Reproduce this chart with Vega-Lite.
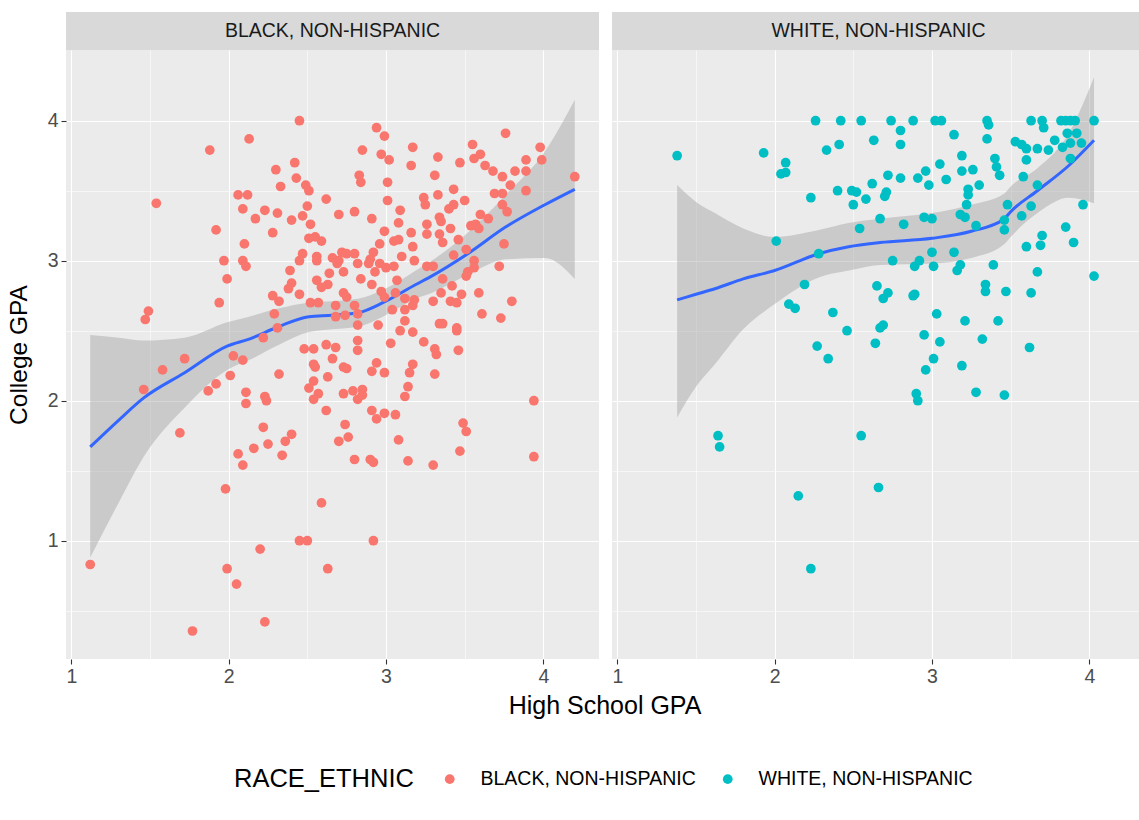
{
"$schema": "https://vega.github.io/schema/vega-lite/v6.json",
"background": "white",
"padding": {"left": 6, "top": 12, "right": 0, "bottom": 0},
"config": {
  "font": "Liberation Sans",
  "view": {"stroke": null},
  "axis": {"domain": false, "grid": true, "gridColor": "#FFFFFF", "tickColor": "#333333", "tickWidth": 1.1, "tickSize": 5, "labelColor": "#4D4D4D", "labelFontSize": 19.5, "labelFont": "Liberation Sans", "titleFont": "Liberation Sans", "titleFontSize": 24.5, "titleFontWeight": "normal", "titleColor": "#000000", "labelPadding": 3},
  "legend": {"labelFont": "Liberation Sans", "titleFont": "Liberation Sans"}
},
"datasets": {
"smooth": [
{"race":"BLACK, NON-HISPANIC","hs":1.12,"fit":1.67,"lo":0.88,"hi":2.47},
{"race":"BLACK, NON-HISPANIC","hs":1.30,"fit":1.86,"lo":1.27,"hi":2.45},
{"race":"BLACK, NON-HISPANIC","hs":1.46,"fit":2.02,"lo":1.60,"hi":2.43},
{"race":"BLACK, NON-HISPANIC","hs":1.72,"fit":2.20,"lo":1.95,"hi":2.45},
{"race":"BLACK, NON-HISPANIC","hs":1.99,"fit":2.39,"lo":2.22,"hi":2.56},
{"race":"BLACK, NON-HISPANIC","hs":2.13,"fit":2.44,"lo":2.29,"hi":2.60},
{"race":"BLACK, NON-HISPANIC","hs":2.32,"fit":2.53,"lo":2.40,"hi":2.66},
{"race":"BLACK, NON-HISPANIC","hs":2.51,"fit":2.60,"lo":2.49,"hi":2.70},
{"race":"BLACK, NON-HISPANIC","hs":2.66,"fit":2.61,"lo":2.51,"hi":2.71},
{"race":"BLACK, NON-HISPANIC","hs":2.83,"fit":2.63,"lo":2.53,"hi":2.73},
{"race":"BLACK, NON-HISPANIC","hs":2.98,"fit":2.70,"lo":2.60,"hi":2.79},
{"race":"BLACK, NON-HISPANIC","hs":3.19,"fit":2.83,"lo":2.73,"hi":2.93},
{"race":"BLACK, NON-HISPANIC","hs":3.29,"fit":2.89,"lo":2.77,"hi":3.00},
{"race":"BLACK, NON-HISPANIC","hs":3.52,"fit":3.05,"lo":2.90,"hi":3.20},
{"race":"BLACK, NON-HISPANIC","hs":3.76,"fit":3.24,"lo":3.01,"hi":3.47},
{"race":"BLACK, NON-HISPANIC","hs":4.01,"fit":3.40,"lo":3.02,"hi":3.78},
{"race":"BLACK, NON-HISPANIC","hs":4.20,"fit":3.51,"lo":2.87,"hi":4.15},
{"race":"WHITE, NON-HISPANIC","hs":1.38,"fit":2.72,"lo":1.88,"hi":3.54},
{"race":"WHITE, NON-HISPANIC","hs":1.50,"fit":2.76,"lo":2.10,"hi":3.42},
{"race":"WHITE, NON-HISPANIC","hs":1.62,"fit":2.80,"lo":2.26,"hi":3.34},
{"race":"WHITE, NON-HISPANIC","hs":1.80,"fit":2.87,"lo":2.51,"hi":3.23},
{"race":"WHITE, NON-HISPANIC","hs":2.00,"fit":2.93,"lo":2.69,"hi":3.17},
{"race":"WHITE, NON-HISPANIC","hs":2.28,"fit":3.05,"lo":2.88,"hi":3.22},
{"race":"WHITE, NON-HISPANIC","hs":2.47,"fit":3.10,"lo":2.93,"hi":3.27},
{"race":"WHITE, NON-HISPANIC","hs":2.67,"fit":3.13,"lo":2.97,"hi":3.30},
{"race":"WHITE, NON-HISPANIC","hs":3.00,"fit":3.16,"lo":2.98,"hi":3.34},
{"race":"WHITE, NON-HISPANIC","hs":3.25,"fit":3.21,"lo":3.02,"hi":3.40},
{"race":"WHITE, NON-HISPANIC","hs":3.46,"fit":3.30,"lo":3.12,"hi":3.48},
{"race":"WHITE, NON-HISPANIC","hs":3.50,"fit":3.35,"lo":3.17,"hi":3.53},
{"race":"WHITE, NON-HISPANIC","hs":3.67,"fit":3.50,"lo":3.34,"hi":3.66},
{"race":"WHITE, NON-HISPANIC","hs":3.87,"fit":3.68,"lo":3.45,"hi":3.91},
{"race":"WHITE, NON-HISPANIC","hs":4.03,"fit":3.86,"lo":3.41,"hi":4.31}
],
"pts": [
{"race":"BLACK, NON-HISPANIC","hs":1.88,"col":3.79},{"race":"BLACK, NON-HISPANIC","hs":1.54,"col":3.41},{"race":"BLACK, NON-HISPANIC","hs":2.06,"col":3.47},{"race":"BLACK, NON-HISPANIC","hs":2.12,"col":3.47},{"race":"BLACK, NON-HISPANIC","hs":2.09,"col":3.37},{"race":"BLACK, NON-HISPANIC","hs":1.92,"col":3.22},{"race":"BLACK, NON-HISPANIC","hs":2.10,"col":3.12},{"race":"BLACK, NON-HISPANIC","hs":1.97,"col":3.00},{"race":"BLACK, NON-HISPANIC","hs":2.09,"col":3.00},{"race":"BLACK, NON-HISPANIC","hs":2.11,"col":2.96},{"race":"BLACK, NON-HISPANIC","hs":1.99,"col":2.87},{"race":"BLACK, NON-HISPANIC","hs":2.13,"col":3.87},
{"race":"BLACK, NON-HISPANIC","hs":2.45,"col":4.00},{"race":"BLACK, NON-HISPANIC","hs":2.94,"col":3.95},{"race":"BLACK, NON-HISPANIC","hs":2.99,"col":3.89},{"race":"BLACK, NON-HISPANIC","hs":3.17,"col":3.81},{"race":"BLACK, NON-HISPANIC","hs":2.85,"col":3.79},{"race":"BLACK, NON-HISPANIC","hs":2.97,"col":3.76},{"race":"BLACK, NON-HISPANIC","hs":3.02,"col":3.72},{"race":"BLACK, NON-HISPANIC","hs":2.42,"col":3.70},{"race":"BLACK, NON-HISPANIC","hs":2.30,"col":3.65},{"race":"BLACK, NON-HISPANIC","hs":3.16,"col":3.68},{"race":"BLACK, NON-HISPANIC","hs":2.83,"col":3.61},{"race":"BLACK, NON-HISPANIC","hs":2.84,"col":3.56},{"race":"BLACK, NON-HISPANIC","hs":2.43,"col":3.59},{"race":"BLACK, NON-HISPANIC","hs":3.01,"col":3.56},{"race":"BLACK, NON-HISPANIC","hs":2.33,"col":3.53},{"race":"BLACK, NON-HISPANIC","hs":2.49,"col":3.54},{"race":"BLACK, NON-HISPANIC","hs":2.51,"col":3.50},{"race":"BLACK, NON-HISPANIC","hs":2.62,"col":3.44},{"race":"BLACK, NON-HISPANIC","hs":3.01,"col":3.43},{"race":"BLACK, NON-HISPANIC","hs":2.50,"col":3.39},{"race":"BLACK, NON-HISPANIC","hs":2.23,"col":3.36},{"race":"BLACK, NON-HISPANIC","hs":2.17,"col":3.30},{"race":"BLACK, NON-HISPANIC","hs":2.31,"col":3.34},{"race":"BLACK, NON-HISPANIC","hs":2.40,"col":3.29},{"race":"BLACK, NON-HISPANIC","hs":2.47,"col":3.32},{"race":"BLACK, NON-HISPANIC","hs":2.70,"col":3.33},{"race":"BLACK, NON-HISPANIC","hs":2.80,"col":3.35},{"race":"BLACK, NON-HISPANIC","hs":2.91,"col":3.30},{"race":"BLACK, NON-HISPANIC","hs":3.09,"col":3.36},{"race":"BLACK, NON-HISPANIC","hs":3.08,"col":3.27},{"race":"BLACK, NON-HISPANIC","hs":2.52,"col":3.26},{"race":"BLACK, NON-HISPANIC","hs":2.28,"col":3.20},{"race":"BLACK, NON-HISPANIC","hs":2.99,"col":3.21},{"race":"BLACK, NON-HISPANIC","hs":3.16,"col":3.20},{"race":"BLACK, NON-HISPANIC","hs":2.51,"col":3.16},{"race":"BLACK, NON-HISPANIC","hs":2.55,"col":3.17},{"race":"BLACK, NON-HISPANIC","hs":2.59,"col":3.14},{"race":"BLACK, NON-HISPANIC","hs":2.96,"col":3.12},{"race":"BLACK, NON-HISPANIC","hs":3.05,"col":3.14},{"race":"BLACK, NON-HISPANIC","hs":3.08,"col":3.15},{"race":"BLACK, NON-HISPANIC","hs":3.17,"col":3.10},{"race":"BLACK, NON-HISPANIC","hs":2.47,"col":3.05},{"race":"BLACK, NON-HISPANIC","hs":2.45,"col":3.00},{"race":"BLACK, NON-HISPANIC","hs":2.56,"col":3.03},{"race":"BLACK, NON-HISPANIC","hs":2.56,"col":3.00},{"race":"BLACK, NON-HISPANIC","hs":2.66,"col":3.02},{"race":"BLACK, NON-HISPANIC","hs":2.70,"col":3.00},{"race":"BLACK, NON-HISPANIC","hs":2.72,"col":3.06},{"race":"BLACK, NON-HISPANIC","hs":2.75,"col":3.05},{"race":"BLACK, NON-HISPANIC","hs":2.80,"col":3.05},{"race":"BLACK, NON-HISPANIC","hs":2.82,"col":2.98},{"race":"BLACK, NON-HISPANIC","hs":2.92,"col":3.06},{"race":"BLACK, NON-HISPANIC","hs":2.90,"col":3.01},{"race":"BLACK, NON-HISPANIC","hs":2.89,"col":2.98},{"race":"BLACK, NON-HISPANIC","hs":2.96,"col":2.98},{"race":"BLACK, NON-HISPANIC","hs":3.00,"col":2.95},{"race":"BLACK, NON-HISPANIC","hs":3.05,"col":2.96},{"race":"BLACK, NON-HISPANIC","hs":3.10,"col":3.03},{"race":"BLACK, NON-HISPANIC","hs":3.18,"col":3.00},{"race":"BLACK, NON-HISPANIC","hs":2.39,"col":2.93},{"race":"BLACK, NON-HISPANIC","hs":2.64,"col":2.91},{"race":"BLACK, NON-HISPANIC","hs":2.73,"col":2.92},{"race":"BLACK, NON-HISPANIC","hs":2.93,"col":2.92},{"race":"BLACK, NON-HISPANIC","hs":2.69,"col":2.98},
{"race":"BLACK, NON-HISPANIC","hs":3.76,"col":3.91},{"race":"BLACK, NON-HISPANIC","hs":3.55,"col":3.83},{"race":"BLACK, NON-HISPANIC","hs":3.98,"col":3.81},{"race":"BLACK, NON-HISPANIC","hs":3.33,"col":3.74},{"race":"BLACK, NON-HISPANIC","hs":3.56,"col":3.73},{"race":"BLACK, NON-HISPANIC","hs":3.60,"col":3.76},{"race":"BLACK, NON-HISPANIC","hs":3.89,"col":3.72},{"race":"BLACK, NON-HISPANIC","hs":3.99,"col":3.72},{"race":"BLACK, NON-HISPANIC","hs":3.47,"col":3.70},{"race":"BLACK, NON-HISPANIC","hs":3.63,"col":3.68},{"race":"BLACK, NON-HISPANIC","hs":3.31,"col":3.61},{"race":"BLACK, NON-HISPANIC","hs":3.68,"col":3.64},{"race":"BLACK, NON-HISPANIC","hs":3.74,"col":3.60},{"race":"BLACK, NON-HISPANIC","hs":3.82,"col":3.64},{"race":"BLACK, NON-HISPANIC","hs":3.89,"col":3.64},{"race":"BLACK, NON-HISPANIC","hs":3.79,"col":3.54},{"race":"BLACK, NON-HISPANIC","hs":4.20,"col":3.60},{"race":"BLACK, NON-HISPANIC","hs":3.43,"col":3.51},{"race":"BLACK, NON-HISPANIC","hs":3.89,"col":3.50},{"race":"BLACK, NON-HISPANIC","hs":3.69,"col":3.48},{"race":"BLACK, NON-HISPANIC","hs":3.74,"col":3.48},{"race":"BLACK, NON-HISPANIC","hs":3.33,"col":3.47},{"race":"BLACK, NON-HISPANIC","hs":3.50,"col":3.43},{"race":"BLACK, NON-HISPANIC","hs":3.24,"col":3.45},{"race":"BLACK, NON-HISPANIC","hs":3.25,"col":3.40},{"race":"BLACK, NON-HISPANIC","hs":3.43,"col":3.40},{"race":"BLACK, NON-HISPANIC","hs":3.40,"col":3.37},{"race":"BLACK, NON-HISPANIC","hs":3.74,"col":3.40},{"race":"BLACK, NON-HISPANIC","hs":3.77,"col":3.35},{"race":"BLACK, NON-HISPANIC","hs":3.60,"col":3.33},{"race":"BLACK, NON-HISPANIC","hs":3.65,"col":3.30},{"race":"BLACK, NON-HISPANIC","hs":3.34,"col":3.31},{"race":"BLACK, NON-HISPANIC","hs":3.35,"col":3.28},{"race":"BLACK, NON-HISPANIC","hs":3.26,"col":3.26},{"race":"BLACK, NON-HISPANIC","hs":3.54,"col":3.25},{"race":"BLACK, NON-HISPANIC","hs":3.57,"col":3.26},{"race":"BLACK, NON-HISPANIC","hs":3.59,"col":3.23},{"race":"BLACK, NON-HISPANIC","hs":3.41,"col":3.23},{"race":"BLACK, NON-HISPANIC","hs":3.26,"col":3.19},{"race":"BLACK, NON-HISPANIC","hs":3.34,"col":3.19},{"race":"BLACK, NON-HISPANIC","hs":3.36,"col":3.13},{"race":"BLACK, NON-HISPANIC","hs":3.46,"col":3.15},{"race":"BLACK, NON-HISPANIC","hs":3.51,"col":3.08},{"race":"BLACK, NON-HISPANIC","hs":3.75,"col":3.12},{"race":"BLACK, NON-HISPANIC","hs":3.43,"col":3.04},{"race":"BLACK, NON-HISPANIC","hs":3.56,"col":3.00},{"race":"BLACK, NON-HISPANIC","hs":3.56,"col":2.95},{"race":"BLACK, NON-HISPANIC","hs":3.52,"col":2.92},{"race":"BLACK, NON-HISPANIC","hs":3.72,"col":2.96},{"race":"BLACK, NON-HISPANIC","hs":3.26,"col":2.96},{"race":"BLACK, NON-HISPANIC","hs":3.30,"col":2.96},{"race":"BLACK, NON-HISPANIC","hs":3.51,"col":2.89},{"race":"BLACK, NON-HISPANIC","hs":3.36,"col":2.87},
{"race":"BLACK, NON-HISPANIC","hs":1.49,"col":2.64},{"race":"BLACK, NON-HISPANIC","hs":1.47,"col":2.58},{"race":"BLACK, NON-HISPANIC","hs":1.94,"col":2.70},{"race":"BLACK, NON-HISPANIC","hs":1.72,"col":2.30},{"race":"BLACK, NON-HISPANIC","hs":1.58,"col":2.22},{"race":"BLACK, NON-HISPANIC","hs":1.46,"col":2.08},{"race":"BLACK, NON-HISPANIC","hs":1.87,"col":2.07},{"race":"BLACK, NON-HISPANIC","hs":1.92,"col":2.12},{"race":"BLACK, NON-HISPANIC","hs":2.01,"col":2.18},{"race":"BLACK, NON-HISPANIC","hs":2.03,"col":2.32},{"race":"BLACK, NON-HISPANIC","hs":2.09,"col":2.29},{"race":"BLACK, NON-HISPANIC","hs":2.11,"col":2.06},{"race":"BLACK, NON-HISPANIC","hs":2.11,"col":1.98},{"race":"BLACK, NON-HISPANIC","hs":1.69,"col":1.77},{"race":"BLACK, NON-HISPANIC","hs":2.06,"col":1.62},{"race":"BLACK, NON-HISPANIC","hs":2.09,"col":1.54},
{"race":"BLACK, NON-HISPANIC","hs":2.40,"col":2.84},{"race":"BLACK, NON-HISPANIC","hs":2.38,"col":2.80},{"race":"BLACK, NON-HISPANIC","hs":2.45,"col":2.76},{"race":"BLACK, NON-HISPANIC","hs":2.28,"col":2.75},{"race":"BLACK, NON-HISPANIC","hs":2.32,"col":2.71},{"race":"BLACK, NON-HISPANIC","hs":2.56,"col":2.86},{"race":"BLACK, NON-HISPANIC","hs":2.63,"col":2.83},{"race":"BLACK, NON-HISPANIC","hs":2.59,"col":2.81},{"race":"BLACK, NON-HISPANIC","hs":2.52,"col":2.70},{"race":"BLACK, NON-HISPANIC","hs":2.57,"col":2.70},{"race":"BLACK, NON-HISPANIC","hs":2.73,"col":2.77},{"race":"BLACK, NON-HISPANIC","hs":2.75,"col":2.74},{"race":"BLACK, NON-HISPANIC","hs":2.68,"col":2.68},{"race":"BLACK, NON-HISPANIC","hs":2.80,"col":2.68},{"race":"BLACK, NON-HISPANIC","hs":2.84,"col":2.87},{"race":"BLACK, NON-HISPANIC","hs":2.91,"col":2.83},{"race":"BLACK, NON-HISPANIC","hs":2.97,"col":2.78},{"race":"BLACK, NON-HISPANIC","hs":2.99,"col":2.74},{"race":"BLACK, NON-HISPANIC","hs":3.06,"col":2.77},{"race":"BLACK, NON-HISPANIC","hs":3.07,"col":2.86},{"race":"BLACK, NON-HISPANIC","hs":3.12,"col":2.73},{"race":"BLACK, NON-HISPANIC","hs":3.18,"col":2.72},{"race":"BLACK, NON-HISPANIC","hs":3.04,"col":2.65},{"race":"BLACK, NON-HISPANIC","hs":3.12,"col":2.65},{"race":"BLACK, NON-HISPANIC","hs":3.17,"col":2.68},{"race":"BLACK, NON-HISPANIC","hs":2.29,"col":2.62},{"race":"BLACK, NON-HISPANIC","hs":2.31,"col":2.52},{"race":"BLACK, NON-HISPANIC","hs":2.22,"col":2.45},{"race":"BLACK, NON-HISPANIC","hs":2.68,"col":2.60},{"race":"BLACK, NON-HISPANIC","hs":2.74,"col":2.61},{"race":"BLACK, NON-HISPANIC","hs":2.82,"col":2.62},{"race":"BLACK, NON-HISPANIC","hs":2.82,"col":2.54},{"race":"BLACK, NON-HISPANIC","hs":2.95,"col":2.54},{"race":"BLACK, NON-HISPANIC","hs":3.09,"col":2.50},{"race":"BLACK, NON-HISPANIC","hs":3.12,"col":2.57},{"race":"BLACK, NON-HISPANIC","hs":3.17,"col":2.49},{"race":"BLACK, NON-HISPANIC","hs":2.48,"col":2.37},{"race":"BLACK, NON-HISPANIC","hs":2.54,"col":2.37},{"race":"BLACK, NON-HISPANIC","hs":2.62,"col":2.40},{"race":"BLACK, NON-HISPANIC","hs":2.68,"col":2.38},{"race":"BLACK, NON-HISPANIC","hs":2.82,"col":2.43},{"race":"BLACK, NON-HISPANIC","hs":2.82,"col":2.36},{"race":"BLACK, NON-HISPANIC","hs":3.03,"col":2.41},{"race":"BLACK, NON-HISPANIC","hs":2.54,"col":2.26},{"race":"BLACK, NON-HISPANIC","hs":2.55,"col":2.24},{"race":"BLACK, NON-HISPANIC","hs":2.66,"col":2.30},{"race":"BLACK, NON-HISPANIC","hs":2.73,"col":2.24},{"race":"BLACK, NON-HISPANIC","hs":2.75,"col":2.23},{"race":"BLACK, NON-HISPANIC","hs":2.32,"col":2.19},{"race":"BLACK, NON-HISPANIC","hs":2.63,"col":2.17},{"race":"BLACK, NON-HISPANIC","hs":2.94,"col":2.27},{"race":"BLACK, NON-HISPANIC","hs":2.91,"col":2.21},{"race":"BLACK, NON-HISPANIC","hs":2.99,"col":2.20},{"race":"BLACK, NON-HISPANIC","hs":3.17,"col":2.26},{"race":"BLACK, NON-HISPANIC","hs":3.15,"col":2.20},{"race":"BLACK, NON-HISPANIC","hs":2.54,"col":2.14},{"race":"BLACK, NON-HISPANIC","hs":2.51,"col":2.09},{"race":"BLACK, NON-HISPANIC","hs":2.57,"col":2.05},{"race":"BLACK, NON-HISPANIC","hs":2.54,"col":2.01},{"race":"BLACK, NON-HISPANIC","hs":2.73,"col":2.05},{"race":"BLACK, NON-HISPANIC","hs":2.79,"col":2.07},{"race":"BLACK, NON-HISPANIC","hs":2.85,"col":2.08},{"race":"BLACK, NON-HISPANIC","hs":2.85,"col":2.04},{"race":"BLACK, NON-HISPANIC","hs":2.82,"col":2.01},{"race":"BLACK, NON-HISPANIC","hs":3.14,"col":2.10},{"race":"BLACK, NON-HISPANIC","hs":3.12,"col":2.03},{"race":"BLACK, NON-HISPANIC","hs":2.23,"col":2.03},{"race":"BLACK, NON-HISPANIC","hs":2.24,"col":2.00},{"race":"BLACK, NON-HISPANIC","hs":2.62,"col":1.93},{"race":"BLACK, NON-HISPANIC","hs":2.91,"col":1.93},{"race":"BLACK, NON-HISPANIC","hs":2.94,"col":1.87},{"race":"BLACK, NON-HISPANIC","hs":2.99,"col":1.91},{"race":"BLACK, NON-HISPANIC","hs":3.06,"col":1.90},{"race":"BLACK, NON-HISPANIC","hs":2.74,"col":1.83},{"race":"BLACK, NON-HISPANIC","hs":2.22,"col":1.81},{"race":"BLACK, NON-HISPANIC","hs":2.40,"col":1.76},{"race":"BLACK, NON-HISPANIC","hs":2.36,"col":1.71},{"race":"BLACK, NON-HISPANIC","hs":2.76,"col":1.74},{"race":"BLACK, NON-HISPANIC","hs":2.70,"col":1.71},{"race":"BLACK, NON-HISPANIC","hs":3.08,"col":1.72},{"race":"BLACK, NON-HISPANIC","hs":2.25,"col":1.69},{"race":"BLACK, NON-HISPANIC","hs":2.16,"col":1.66},{"race":"BLACK, NON-HISPANIC","hs":2.34,"col":1.61},{"race":"BLACK, NON-HISPANIC","hs":2.80,"col":1.58},{"race":"BLACK, NON-HISPANIC","hs":2.90,"col":1.58},{"race":"BLACK, NON-HISPANIC","hs":2.92,"col":1.56},{"race":"BLACK, NON-HISPANIC","hs":3.14,"col":1.57},
{"race":"BLACK, NON-HISPANIC","hs":3.42,"col":2.82},{"race":"BLACK, NON-HISPANIC","hs":3.35,"col":2.77},{"race":"BLACK, NON-HISPANIC","hs":3.48,"col":2.76},{"race":"BLACK, NON-HISPANIC","hs":3.59,"col":2.77},{"race":"BLACK, NON-HISPANIC","hs":3.30,"col":2.71},{"race":"BLACK, NON-HISPANIC","hs":3.41,"col":2.71},{"race":"BLACK, NON-HISPANIC","hs":3.45,"col":2.70},{"race":"BLACK, NON-HISPANIC","hs":3.80,"col":2.71},{"race":"BLACK, NON-HISPANIC","hs":3.61,"col":2.62},{"race":"BLACK, NON-HISPANIC","hs":3.73,"col":2.59},{"race":"BLACK, NON-HISPANIC","hs":3.34,"col":2.55},{"race":"BLACK, NON-HISPANIC","hs":3.36,"col":2.55},{"race":"BLACK, NON-HISPANIC","hs":3.45,"col":2.52},{"race":"BLACK, NON-HISPANIC","hs":3.45,"col":2.50},{"race":"BLACK, NON-HISPANIC","hs":3.24,"col":2.42},{"race":"BLACK, NON-HISPANIC","hs":3.31,"col":2.37},{"race":"BLACK, NON-HISPANIC","hs":3.32,"col":2.33},{"race":"BLACK, NON-HISPANIC","hs":3.46,"col":2.36},{"race":"BLACK, NON-HISPANIC","hs":3.31,"col":2.19},{"race":"BLACK, NON-HISPANIC","hs":3.94,"col":2.00},{"race":"BLACK, NON-HISPANIC","hs":3.49,"col":1.84},{"race":"BLACK, NON-HISPANIC","hs":3.51,"col":1.78},{"race":"BLACK, NON-HISPANIC","hs":3.47,"col":1.64},{"race":"BLACK, NON-HISPANIC","hs":3.94,"col":1.60},{"race":"BLACK, NON-HISPANIC","hs":3.30,"col":1.54},
{"race":"BLACK, NON-HISPANIC","hs":1.98,"col":1.37},{"race":"BLACK, NON-HISPANIC","hs":2.59,"col":1.27},{"race":"BLACK, NON-HISPANIC","hs":2.45,"col":1.00},{"race":"BLACK, NON-HISPANIC","hs":2.50,"col":1.00},{"race":"BLACK, NON-HISPANIC","hs":2.92,"col":1.00},{"race":"BLACK, NON-HISPANIC","hs":2.20,"col":0.94},{"race":"BLACK, NON-HISPANIC","hs":1.12,"col":0.83},{"race":"BLACK, NON-HISPANIC","hs":1.99,"col":0.80},{"race":"BLACK, NON-HISPANIC","hs":2.63,"col":0.80},{"race":"BLACK, NON-HISPANIC","hs":2.05,"col":0.69},{"race":"BLACK, NON-HISPANIC","hs":2.23,"col":0.42},{"race":"BLACK, NON-HISPANIC","hs":1.77,"col":0.355},
{"race":"WHITE, NON-HISPANIC","hs":1.38,"col":3.75},{"race":"WHITE, NON-HISPANIC","hs":1.93,"col":3.77},{"race":"WHITE, NON-HISPANIC","hs":2.07,"col":3.70},{"race":"WHITE, NON-HISPANIC","hs":2.04,"col":3.62},{"race":"WHITE, NON-HISPANIC","hs":2.07,"col":3.63},{"race":"WHITE, NON-HISPANIC","hs":2.26,"col":4.00},{"race":"WHITE, NON-HISPANIC","hs":2.42,"col":4.00},{"race":"WHITE, NON-HISPANIC","hs":2.55,"col":4.00},{"race":"WHITE, NON-HISPANIC","hs":2.63,"col":3.86},{"race":"WHITE, NON-HISPANIC","hs":2.33,"col":3.79},{"race":"WHITE, NON-HISPANIC","hs":2.41,"col":3.83},{"race":"WHITE, NON-HISPANIC","hs":2.62,"col":3.55},{"race":"WHITE, NON-HISPANIC","hs":2.40,"col":3.50},{"race":"WHITE, NON-HISPANIC","hs":2.49,"col":3.50},{"race":"WHITE, NON-HISPANIC","hs":2.52,"col":3.49},{"race":"WHITE, NON-HISPANIC","hs":2.58,"col":3.44},{"race":"WHITE, NON-HISPANIC","hs":2.50,"col":3.40},{"race":"WHITE, NON-HISPANIC","hs":2.23,"col":3.45},{"race":"WHITE, NON-HISPANIC","hs":2.67,"col":3.30},{"race":"WHITE, NON-HISPANIC","hs":2.54,"col":3.23},{"race":"WHITE, NON-HISPANIC","hs":2.01,"col":3.14},{"race":"WHITE, NON-HISPANIC","hs":2.28,"col":3.05},{"race":"WHITE, NON-HISPANIC","hs":2.19,"col":2.83},{"race":"WHITE, NON-HISPANIC","hs":2.65,"col":2.82},
{"race":"WHITE, NON-HISPANIC","hs":2.74,"col":4.00},{"race":"WHITE, NON-HISPANIC","hs":2.88,"col":4.00},{"race":"WHITE, NON-HISPANIC","hs":3.02,"col":4.00},{"race":"WHITE, NON-HISPANIC","hs":3.06,"col":4.00},{"race":"WHITE, NON-HISPANIC","hs":3.35,"col":4.00},{"race":"WHITE, NON-HISPANIC","hs":3.36,"col":3.97},{"race":"WHITE, NON-HISPANIC","hs":2.80,"col":3.93},{"race":"WHITE, NON-HISPANIC","hs":2.80,"col":3.83},{"race":"WHITE, NON-HISPANIC","hs":3.14,"col":3.90},{"race":"WHITE, NON-HISPANIC","hs":3.35,"col":3.87},{"race":"WHITE, NON-HISPANIC","hs":3.19,"col":3.75},{"race":"WHITE, NON-HISPANIC","hs":3.05,"col":3.69},{"race":"WHITE, NON-HISPANIC","hs":3.40,"col":3.73},{"race":"WHITE, NON-HISPANIC","hs":3.41,"col":3.67},{"race":"WHITE, NON-HISPANIC","hs":3.43,"col":3.61},{"race":"WHITE, NON-HISPANIC","hs":2.72,"col":3.61},{"race":"WHITE, NON-HISPANIC","hs":2.80,"col":3.59},{"race":"WHITE, NON-HISPANIC","hs":2.91,"col":3.59},{"race":"WHITE, NON-HISPANIC","hs":2.96,"col":3.64},{"race":"WHITE, NON-HISPANIC","hs":2.98,"col":3.54},{"race":"WHITE, NON-HISPANIC","hs":3.09,"col":3.58},{"race":"WHITE, NON-HISPANIC","hs":3.19,"col":3.64},{"race":"WHITE, NON-HISPANIC","hs":3.26,"col":3.65},{"race":"WHITE, NON-HISPANIC","hs":3.30,"col":3.54},{"race":"WHITE, NON-HISPANIC","hs":3.23,"col":3.51},{"race":"WHITE, NON-HISPANIC","hs":3.23,"col":3.47},{"race":"WHITE, NON-HISPANIC","hs":3.22,"col":3.40},{"race":"WHITE, NON-HISPANIC","hs":2.71,"col":3.49},{"race":"WHITE, NON-HISPANIC","hs":2.70,"col":3.46},{"race":"WHITE, NON-HISPANIC","hs":2.82,"col":3.26},{"race":"WHITE, NON-HISPANIC","hs":2.95,"col":3.31},{"race":"WHITE, NON-HISPANIC","hs":3.00,"col":3.30},{"race":"WHITE, NON-HISPANIC","hs":3.18,"col":3.33},{"race":"WHITE, NON-HISPANIC","hs":3.21,"col":3.31},{"race":"WHITE, NON-HISPANIC","hs":3.28,"col":3.25},{"race":"WHITE, NON-HISPANIC","hs":3.46,"col":3.29},{"race":"WHITE, NON-HISPANIC","hs":3.46,"col":3.22},{"race":"WHITE, NON-HISPANIC","hs":3.48,"col":3.40},{"race":"WHITE, NON-HISPANIC","hs":3.00,"col":3.06},{"race":"WHITE, NON-HISPANIC","hs":3.14,"col":3.06},{"race":"WHITE, NON-HISPANIC","hs":2.75,"col":3.00},{"race":"WHITE, NON-HISPANIC","hs":2.92,"col":3.00},{"race":"WHITE, NON-HISPANIC","hs":2.89,"col":2.96},{"race":"WHITE, NON-HISPANIC","hs":3.01,"col":2.96},{"race":"WHITE, NON-HISPANIC","hs":3.18,"col":2.97},{"race":"WHITE, NON-HISPANIC","hs":3.16,"col":2.93},{"race":"WHITE, NON-HISPANIC","hs":3.39,"col":2.97},{"race":"WHITE, NON-HISPANIC","hs":2.89,"col":2.76},{"race":"WHITE, NON-HISPANIC","hs":2.72,"col":2.77},{"race":"WHITE, NON-HISPANIC","hs":3.34,"col":2.83},{"race":"WHITE, NON-HISPANIC","hs":3.34,"col":2.78},{"race":"WHITE, NON-HISPANIC","hs":3.47,"col":2.78},
{"race":"WHITE, NON-HISPANIC","hs":3.63,"col":4.00},{"race":"WHITE, NON-HISPANIC","hs":3.70,"col":4.00},{"race":"WHITE, NON-HISPANIC","hs":3.71,"col":3.95},{"race":"WHITE, NON-HISPANIC","hs":3.82,"col":4.00},{"race":"WHITE, NON-HISPANIC","hs":3.85,"col":4.00},{"race":"WHITE, NON-HISPANIC","hs":3.88,"col":4.00},{"race":"WHITE, NON-HISPANIC","hs":3.91,"col":4.00},{"race":"WHITE, NON-HISPANIC","hs":4.03,"col":4.00},{"race":"WHITE, NON-HISPANIC","hs":3.86,"col":3.91},{"race":"WHITE, NON-HISPANIC","hs":3.92,"col":3.91},{"race":"WHITE, NON-HISPANIC","hs":3.53,"col":3.85},{"race":"WHITE, NON-HISPANIC","hs":3.57,"col":3.83},{"race":"WHITE, NON-HISPANIC","hs":3.60,"col":3.80},{"race":"WHITE, NON-HISPANIC","hs":3.67,"col":3.80},{"race":"WHITE, NON-HISPANIC","hs":3.74,"col":3.79},{"race":"WHITE, NON-HISPANIC","hs":3.78,"col":3.86},{"race":"WHITE, NON-HISPANIC","hs":3.83,"col":3.81},{"race":"WHITE, NON-HISPANIC","hs":3.88,"col":3.84},{"race":"WHITE, NON-HISPANIC","hs":3.95,"col":3.84},{"race":"WHITE, NON-HISPANIC","hs":3.60,"col":3.72},{"race":"WHITE, NON-HISPANIC","hs":3.88,"col":3.73},{"race":"WHITE, NON-HISPANIC","hs":3.58,"col":3.60},{"race":"WHITE, NON-HISPANIC","hs":3.67,"col":3.54},{"race":"WHITE, NON-HISPANIC","hs":3.63,"col":3.39},{"race":"WHITE, NON-HISPANIC","hs":3.57,"col":3.32},{"race":"WHITE, NON-HISPANIC","hs":3.96,"col":3.40},{"race":"WHITE, NON-HISPANIC","hs":3.85,"col":3.24},{"race":"WHITE, NON-HISPANIC","hs":3.70,"col":3.18},{"race":"WHITE, NON-HISPANIC","hs":3.90,"col":3.13},{"race":"WHITE, NON-HISPANIC","hs":3.69,"col":3.11},{"race":"WHITE, NON-HISPANIC","hs":3.60,"col":3.10},{"race":"WHITE, NON-HISPANIC","hs":3.67,"col":2.92},{"race":"WHITE, NON-HISPANIC","hs":4.03,"col":2.89},{"race":"WHITE, NON-HISPANIC","hs":3.63,"col":2.77},
{"race":"WHITE, NON-HISPANIC","hs":2.69,"col":2.73},{"race":"WHITE, NON-HISPANIC","hs":2.88,"col":2.75},{"race":"WHITE, NON-HISPANIC","hs":2.09,"col":2.69},{"race":"WHITE, NON-HISPANIC","hs":2.13,"col":2.66},{"race":"WHITE, NON-HISPANIC","hs":2.37,"col":2.63},{"race":"WHITE, NON-HISPANIC","hs":2.46,"col":2.50},{"race":"WHITE, NON-HISPANIC","hs":2.67,"col":2.52},{"race":"WHITE, NON-HISPANIC","hs":2.69,"col":2.54},{"race":"WHITE, NON-HISPANIC","hs":2.64,"col":2.41},{"race":"WHITE, NON-HISPANIC","hs":2.27,"col":2.39},{"race":"WHITE, NON-HISPANIC","hs":2.34,"col":2.30},{"race":"WHITE, NON-HISPANIC","hs":3.03,"col":2.62},{"race":"WHITE, NON-HISPANIC","hs":3.21,"col":2.57},{"race":"WHITE, NON-HISPANIC","hs":3.42,"col":2.57},{"race":"WHITE, NON-HISPANIC","hs":2.95,"col":2.47},{"race":"WHITE, NON-HISPANIC","hs":3.05,"col":2.42},{"race":"WHITE, NON-HISPANIC","hs":3.32,"col":2.44},{"race":"WHITE, NON-HISPANIC","hs":3.62,"col":2.38},{"race":"WHITE, NON-HISPANIC","hs":3.01,"col":2.30},{"race":"WHITE, NON-HISPANIC","hs":2.96,"col":2.22},{"race":"WHITE, NON-HISPANIC","hs":3.19,"col":2.25},{"race":"WHITE, NON-HISPANIC","hs":2.90,"col":2.05},{"race":"WHITE, NON-HISPANIC","hs":2.91,"col":2.00},{"race":"WHITE, NON-HISPANIC","hs":3.28,"col":2.06},{"race":"WHITE, NON-HISPANIC","hs":3.46,"col":2.04},{"race":"WHITE, NON-HISPANIC","hs":1.64,"col":1.75},{"race":"WHITE, NON-HISPANIC","hs":1.65,"col":1.67},{"race":"WHITE, NON-HISPANIC","hs":2.55,"col":1.75},{"race":"WHITE, NON-HISPANIC","hs":2.66,"col":1.38},{"race":"WHITE, NON-HISPANIC","hs":2.15,"col":1.32},{"race":"WHITE, NON-HISPANIC","hs":2.23,"col":0.80}
]
},
"spacing": 0,
"vconcat": [
{"spacing": 12,
 "hconcat": [
 {"spacing": 0, "vconcat": [
   {"width": 533, "height": 38, "view": {"fill": "#D9D9D9", "stroke": null},
    "data": {"values": [{"strip": "BLACK, NON-HISPANIC"}]},
    "mark": {"type": "text", "fontSize": 19.5, "color": "#1A1A1A", "font": "Liberation Sans", "align": "center", "baseline": "middle"},
    "encoding": {"text": {"field": "strip", "type": "nominal"}}},
   {"width": 533, "height": 609, "view": {"fill": "#EBEBEB", "stroke": null},
    "layer": [
     {"data": {"name": "smooth"}, "transform": [{"filter": "datum.race === 'BLACK, NON-HISPANIC'"}],
      "mark": {"type": "area", "color": "#999999", "opacity": 0.4, "interpolate": "monotone"},
      "encoding": {
       "x": {"field": "hs", "type": "quantitative", "title": null, "scale": {"domain": [0.966, 4.354], "nice": false, "zero": false},
             "axis": {"values": [1, 1.5, 2, 2.5, 3, 3.5, 4], "labelExpr": "datum.value % 1 === 0 ? '' + datum.value : ''", "tickOpacity": {"condition": {"test": "datum.value % 1 !== 0", "value": 0}, "value": 1}, "gridWidth": {"condition": {"test": "datum.value % 1 !== 0", "value": 0.55}, "value": 1.1}}},
       "y": {"field": "lo", "type": "quantitative", "title": "College GPA", "scale": {"domain": [0.155, 4.505], "nice": false, "zero": false},
             "axis": {"values": [0.5, 1, 1.5, 2, 2.5, 3, 3.5, 4], "labelExpr": "datum.value % 1 === 0 ? '' + datum.value : ''", "tickOpacity": {"condition": {"test": "datum.value % 1 !== 0", "value": 0}, "value": 1}, "gridWidth": {"condition": {"test": "datum.value % 1 !== 0", "value": 0.55}, "value": 1.1}, "titlePadding": 16}},
       "y2": {"field": "hi"}}},
     {"data": {"name": "smooth"}, "transform": [{"filter": "datum.race === 'BLACK, NON-HISPANIC'"}],
      "mark": {"type": "line", "color": "#3366FF", "strokeWidth": 3, "interpolate": "monotone"},
      "encoding": {
       "x": {"field": "hs", "type": "quantitative", "title": null},
       "y": {"field": "fit", "type": "quantitative", "title": "College GPA"}}},
     {"data": {"name": "pts"}, "transform": [{"filter": "datum.race === 'BLACK, NON-HISPANIC'"}],
      "mark": {"type": "circle", "size": 95, "opacity": 1},
      "encoding": {
       "x": {"field": "hs", "type": "quantitative", "title": null},
       "y": {"field": "col", "type": "quantitative", "title": "College GPA"},
       "color": {"field": "race", "type": "nominal", "scale": {"domain": ["BLACK, NON-HISPANIC", "WHITE, NON-HISPANIC"], "range": ["#F8766D", "#00BFC4"]},
                 "legend": {"title": "RACE_ETHNIC", "orient": "none", "legendX": 168, "legendY": 757, "direction": "horizontal", "titleOrient": "left", "titleFontSize": 25.5, "titleFontWeight": "normal", "titleColor": "#000000", "titleBaseline": "middle", "labelFontSize": 19.5, "labelColor": "#000000", "labelLimit": 0, "symbolType": "circle", "symbolSize": 95, "symbolStrokeWidth": 0, "labelOffset": 21, "columnPadding": 22, "titlePadding": 26}}}}
    ]}
 ]},
 {"spacing": 0, "vconcat": [
   {"width": 533, "height": 38, "view": {"fill": "#D9D9D9", "stroke": null},
    "data": {"values": [{"strip": "WHITE, NON-HISPANIC"}]},
    "mark": {"type": "text", "fontSize": 19.5, "color": "#1A1A1A", "font": "Liberation Sans", "align": "center", "baseline": "middle"},
    "encoding": {"text": {"field": "strip", "type": "nominal"}}},
   {"width": 533, "height": 609, "view": {"fill": "#EBEBEB", "stroke": null},
    "layer": [
     {"data": {"name": "smooth"}, "transform": [{"filter": "datum.race === 'WHITE, NON-HISPANIC'"}],
      "mark": {"type": "area", "color": "#999999", "opacity": 0.4, "interpolate": "monotone"},
      "encoding": {
       "x": {"field": "hs", "type": "quantitative", "title": null, "scale": {"domain": [0.966, 4.354], "nice": false, "zero": false},
             "axis": {"values": [1, 1.5, 2, 2.5, 3, 3.5, 4], "labelExpr": "datum.value % 1 === 0 ? '' + datum.value : ''", "tickOpacity": {"condition": {"test": "datum.value % 1 !== 0", "value": 0}, "value": 1}, "gridWidth": {"condition": {"test": "datum.value % 1 !== 0", "value": 0.55}, "value": 1.1}}},
       "y": {"field": "lo", "type": "quantitative", "title": null, "scale": {"domain": [0.155, 4.505], "nice": false, "zero": false},
             "axis": {"values": [0.5, 1, 1.5, 2, 2.5, 3, 3.5, 4], "labels": false, "ticks": false, "gridWidth": {"condition": {"test": "datum.value % 1 !== 0", "value": 0.55}, "value": 1.1}}},
       "y2": {"field": "hi"}}},
     {"data": {"name": "smooth"}, "transform": [{"filter": "datum.race === 'WHITE, NON-HISPANIC'"}],
      "mark": {"type": "line", "color": "#3366FF", "strokeWidth": 3, "interpolate": "monotone"},
      "encoding": {
       "x": {"field": "hs", "type": "quantitative", "title": null},
       "y": {"field": "fit", "type": "quantitative", "title": null}}},
     {"data": {"name": "pts"}, "transform": [{"filter": "datum.race === 'WHITE, NON-HISPANIC'"}],
      "mark": {"type": "circle", "size": 95, "opacity": 1},
      "encoding": {
       "x": {"field": "hs", "type": "quantitative", "title": null},
       "y": {"field": "col", "type": "quantitative", "title": null},
       "color": {"field": "race", "type": "nominal", "scale": {"domain": ["BLACK, NON-HISPANIC", "WHITE, NON-HISPANIC"], "range": ["#F8766D", "#00BFC4"]},
                 "legend": {"title": "RACE_ETHNIC", "orient": "none", "legendX": 168, "legendY": 757, "direction": "horizontal", "titleOrient": "left", "titleFontSize": 25.5, "titleFontWeight": "normal", "titleColor": "#000000", "titleBaseline": "middle", "labelFontSize": 19.5, "labelColor": "#000000", "labelLimit": 0, "symbolType": "circle", "symbolSize": 95, "symbolStrokeWidth": 0, "labelOffset": 21, "columnPadding": 22, "titlePadding": 26}}}}
    ]}
 ]}
 ]},
{"width": 1078, "height": 40,
 "data": {"values": [{"xtitle": "High School GPA"}]},
 "mark": {"type": "text", "fontSize": 25, "color": "#000000", "font": "Liberation Sans", "align": "center", "baseline": "middle"},
 "encoding": {"text": {"field": "xtitle", "type": "nominal"}}}
]
}
